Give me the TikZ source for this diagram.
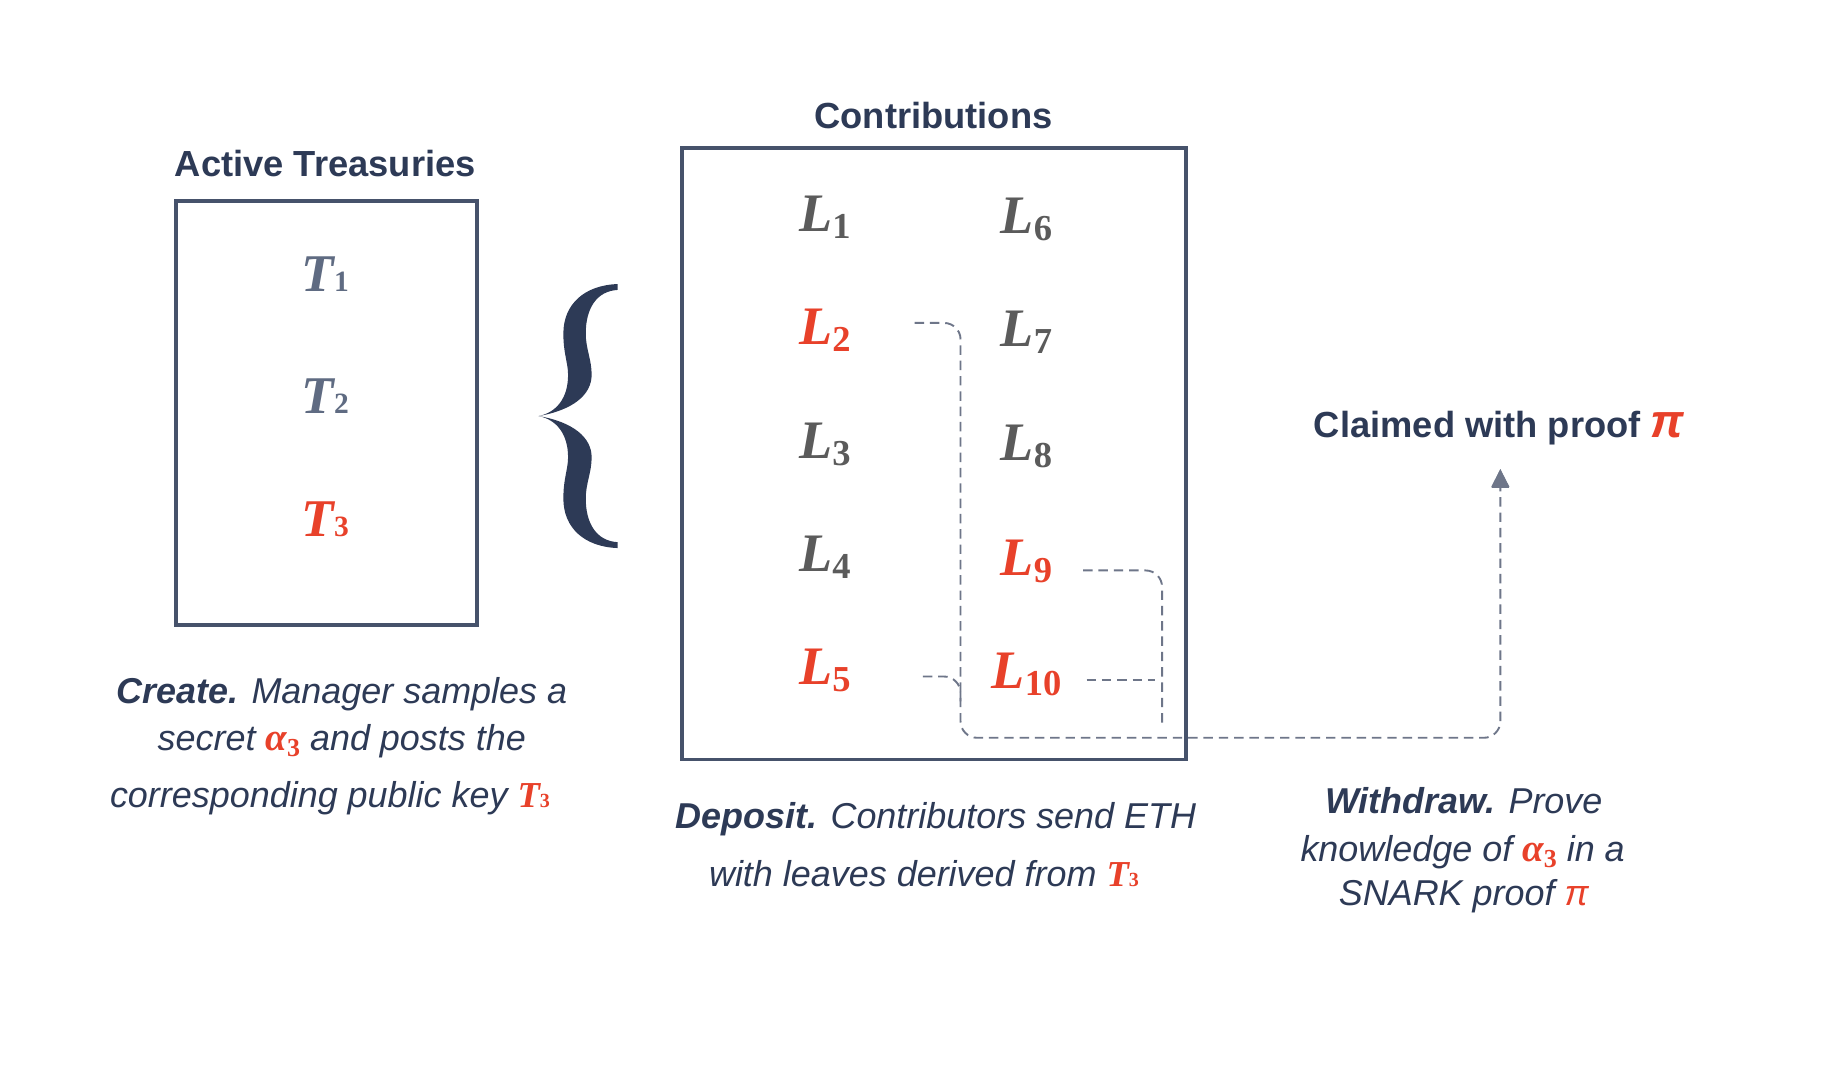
\documentclass[tikz,border=0pt]{standalone}
\usepackage{fontspec}
\setmainfont{Liberation Sans}
\newfontfamily\serifb{Liberation Serif}
\usetikzlibrary{arrows.meta}
\definecolor{navy}{HTML}{2D3A56}
\definecolor{redc}{HTML}{E8412A}
\definecolor{tgray}{HTML}{5F6B82}
\definecolor{lgray}{HTML}{5B5B5B}
\definecolor{boxc}{HTML}{46526B}
\definecolor{dashc}{HTML}{6E7689}
\newcommand\Tlab[1]{{\serifb\bfseries\itshape\fontsize{45}{45}\selectfont T}{\serifb\bfseries\upshape\fontsize{25}{25}\selectfont #1}}
\newcommand\Llab[1]{{\serifb\bfseries\itshape\fontsize{46}{46}\selectfont L}\raisebox{-6pt}{\serifb\bfseries\upshape\fontsize{31}{31}\selectfont #1}}
\newcommand\Tsm{{\serifb\bfseries\itshape\fontsize{31}{31}\selectfont T}{\serifb\bfseries\upshape\fontsize{17}{17}\selectfont 3}}
\newcommand\asm{{\serifb\bfseries\itshape\fontsize{33}{33}\selectfont α}\raisebox{-5pt}{\serifb\bfseries\upshape\fontsize{22}{22}\selectfont 3}}
\begin{document}
\begin{tikzpicture}[x=1pt,y=-1pt,
  ttl/.style={font=\bfseries\fontsize{30.8}{36}\selectfont, text=navy, inner sep=0pt, anchor=base},
  body/.style={font=\itshape\fontsize{30.5}{36}\selectfont, text=navy, inner sep=0pt, anchor=base},
  boxn/.style={draw=boxc, line width=3pt, inner sep=0pt, anchor=north west},
  lab/.style={inner sep=0pt, anchor=base},
  conn/.style={draw=dashc, line width=1.6pt, dash pattern=on 8pt off 5pt, rounded corners=14pt}]
\useasboundingbox[fill=white] (0,0) rectangle (1568,911);
% titles
\node[ttl] (atitle) at (276,150) {Active Treasuries};
\node[ttl] (ctitle) at (792,109) {Contributions};
\node[ttl] (claim) at (1272,371) {Claimed with proof {\color{redc}\itshape\fontsize{40}{40}\selectfont π}};
% boxes
\node[boxn, minimum width=255pt, minimum height=360pt] (tbox) at (148,169) {};
\node[boxn, minimum width=428pt, minimum height=519pt] (cbox) at (577,124) {};
% treasuries
\node[lab, text=tgray] (T1) at (276,247) {\Tlab{1}};
\node[lab, text=tgray] (T2) at (276,351) {\Tlab{2}};
\node[lab, text=redc] (T3) at (276,455) {\Tlab{3}};
% brace
\fill[navy] (524,241) .. controls (496,242) and (478,258) .. (478,283)
  .. controls (478,300) and (482,308) .. (482,318)
  .. controls (482,338) and (472,350) .. (457,353)
  .. controls (486,348) and (502,335) .. (502,318)
  .. controls (502,305) and (497,296) .. (497,283)
  .. controls (497,262) and (506,247) .. (524,246) -- cycle;
\begin{scope}[shift={(0,706)}, yscale=-1]
\fill[navy] (524,241) .. controls (496,242) and (478,258) .. (478,283)
  .. controls (478,300) and (482,308) .. (482,318)
  .. controls (482,338) and (472,350) .. (457,353)
  .. controls (486,348) and (502,335) .. (502,318)
  .. controls (502,305) and (497,296) .. (497,283)
  .. controls (497,262) and (506,247) .. (524,246) -- cycle;
\end{scope}
% leaves
\node[lab, text=lgray] (L1) at (700,196) {\Llab{1}};
\node[lab, text=redc] (L2) at (700,292) {\Llab{2}};
\node[lab, text=lgray] (L3) at (700,389) {\Llab{3}};
\node[lab, text=lgray] (L4) at (700,485) {\Llab{4}};
\node[lab, text=redc] (L5) at (700,581) {\Llab{5}};
\node[lab, text=lgray] (L6) at (871,198) {\Llab{6}};
\node[lab, text=lgray] (L7) at (871,294) {\Llab{7}};
\node[lab, text=lgray] (L8) at (871,391) {\Llab{8}};
\node[lab, text=redc] (L9) at (871,488) {\Llab{9}};
\node[lab, text=redc] (L10) at (871,584) {\Llab{10}};
% connector points
\coordinate (s2) at (776,274);
\coordinate (s5) at (783,574);
\coordinate (m5) at (815,600);
\coordinate (s9) at (919,484);
\coordinate (e9) at (986,618);
\coordinate (s10) at (922,577);
\coordinate (e10) at (980,577);
\coordinate (j) at (815,626);
\coordinate (tip) at (1273,398);
\draw[conn, -{Triangle[length=15pt,width=15pt]}, fill=none] (s2) -| (j) -| (tip);
\fill[dashc] (tip) -- ++(-7.5,16) -- ++(15,0) -- cycle;
\draw[conn] (s5) -| (m5);
\draw[conn] (s9) -| (e9);
\draw[conn] (s10) -- (e10);
% captions
\node[body] (c1) at (290,597) {{\bfseries Create.} Manager samples a};
\node[body] (c2) at (290,637) {secret {\color{redc}\asm} and posts the};
\node[body] (c3) at (280,685) {corresponding public key {\color{redc}\Tsm}};
\node[body] (d1) at (794,703) {{\bfseries Deposit.} Contributors send ETH};
\node[body] (d2) at (784,752) {with leaves derived from {\color{redc}\Tsm}};
\node[body] (w1) at (1242,690) {{\bfseries Withdraw.} Prove};
\node[body] (w2) at (1241,731) {knowledge of {\color{redc}\asm} in a};
\node[body] (w3) at (1242,768) {SNARK proof {\color{redc}π}};
\end{tikzpicture}
\end{document}
